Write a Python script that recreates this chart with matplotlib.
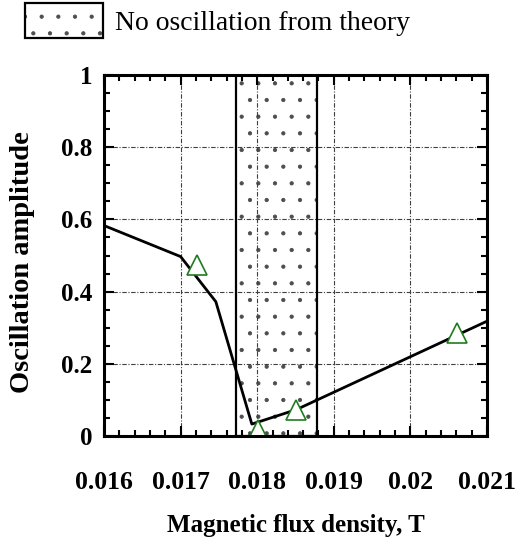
# -*- coding: utf-8 -*-
import matplotlib
matplotlib.use("Agg")
from matplotlib import pyplot as plt
from matplotlib.legend_handler import HandlerTuple
from matplotlib.ticker import MultipleLocator


# calculated amplitude curve
line_b = [0.016, 0.017, 0.01746, 0.01793, 0.01851, 0.021]
line_amp = [0.583, 0.497, 0.372, 0.033, 0.073, 0.318]

# measured points
mk_b = [0.01721, 0.01801, 0.01851, 0.02061]
mk_amp = [0.474, 0.017, 0.073, 0.284]

# region without oscillation from theory
band = [0.01772, 0.01878]

xticks = [0.016, 0.017, 0.018, 0.019, 0.020, 0.021]
xticklabels = ["0.016", "0.017", "0.018", "0.019", "0.02", "0.021"]
yticks = [0, 0.2, 0.4, 0.6, 0.8, 1.0]
yticklabels = ["0", "0.2", "0.4", "0.6", "0.8", "1"]


def main():
    plt.rcParams["font.family"] = ["Liberation Serif", "DejaVu Serif"]
    plt.rcParams["hatch.linewidth"] = 0.6

    W, H = 521, 549
    fig = plt.figure(figsize=(W / 100, H / 100), dpi=100)
    ax = fig.add_axes([104 / W, 1 - 436 / H, 383 / W, 361 / H])

    dots = ax.axvspan(band[0], band[1], ymin=0, ymax=1, facecolor="white",
                      edgecolor="0.3", hatch=".", linewidth=0, zorder=1)
    frame = ax.axvspan(band[0], band[1], ymin=0, ymax=1, fill=False,
                       edgecolor="black", linewidth=1.6, zorder=3)

    ax.plot(line_b, line_amp, color="black", linewidth=2.0, zorder=4)
    ax.plot(mk_b, mk_amp, linestyle="none", marker="^", markersize=14.5,
            markerfacecolor="white", markeredgecolor="#1e7b1e",
            markeredgewidth=1.2, zorder=5)

    setup_axis(ax)

    fig.legend([(dots, frame)], ["No oscillation from theory"],
               handler_map={tuple: HandlerTuple(ndivide=1)},
               loc="upper left", bbox_to_anchor=(25 / W, 1 - 3 / H),
               frameon=False, borderpad=0, borderaxespad=0,
               handlelength=2.8, handleheight=1.55, handletextpad=0.45,
               prop={"size": 20})

    fig.savefig("out.png", dpi=100)


def setup_axis(ax):
    ax.set_xlim(0.016, 0.021)
    ax.set_ylim(0, 1)
    ax.set_xticks(xticks)
    ax.set_xticklabels(xticklabels)
    ax.set_yticks(yticks)
    ax.set_yticklabels(yticklabels)
    ax.xaxis.set_minor_locator(MultipleLocator(0.0002))
    ax.yaxis.set_minor_locator(MultipleLocator(0.05))

    ax.tick_params(which="both", direction="in", top=True, right=True,
                   width=1.5)
    ax.tick_params(which="major", length=7)
    ax.tick_params(which="minor", length=4)
    ax.tick_params(axis="x", pad=25, labelsize=18.5)
    ax.tick_params(axis="y", pad=8.5, labelsize=18)
    for lab in ax.get_xticklabels() + ax.get_yticklabels():
        lab.set_fontweight("bold")

    for sp in ax.spines.values():
        sp.set_linewidth(2.2)
        sp.set_zorder(6)

    ax.grid(which="major", color="0.25", linewidth=0.8,
            linestyle=(0, (4, 1.5, 1, 1.5)), zorder=2)
    ax.set_axisbelow(False)

    ax.set_xlabel("Magnetic flux density, T", fontsize=18, fontweight="bold")
    ax.xaxis.set_label_coords(0.5, -0.216)
    ax.set_ylabel("Oscillation amplitude", fontsize=20.5, fontweight="bold")
    ax.yaxis.set_label_coords(-0.18, 0.483)


if __name__ == '__main__':
    main()
